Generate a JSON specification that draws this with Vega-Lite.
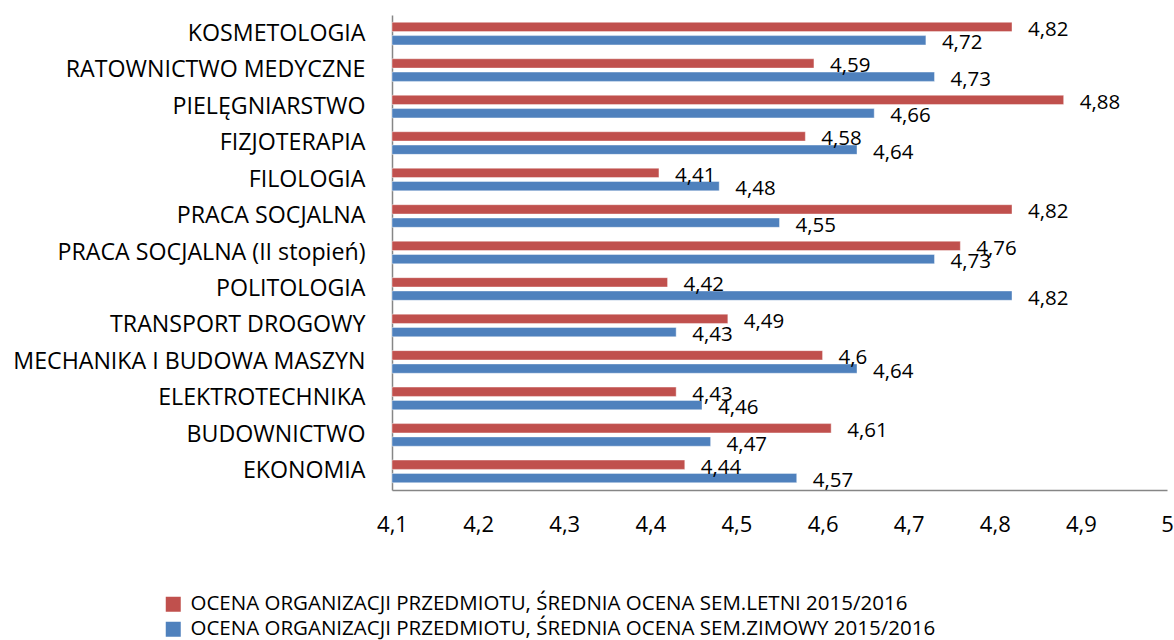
{
  "$schema": "https://vega.github.io/schema/vega-lite/v6.json",
  "autosize": "none",
  "width": 775,
  "height": 475,
  "padding": {"left": 392, "top": 15, "right": 7, "bottom": 150},
  "background": "white",
  "config": {
    "font": "Open Sans",
    "view": {"stroke": null},
    "locale": {"number": {"decimal": ",", "thousands": " ", "grouping": [3], "currency": ["", " zł"]}}
  },
  "data": {
    "values": [
      {"kierunek": "KOSMETOLOGIA", "seria": "OCENA ORGANIZACJI PRZEDMIOTU, ŚREDNIA OCENA SEM.LETNI 2015/2016", "ocena": 4.82},
      {"kierunek": "KOSMETOLOGIA", "seria": "OCENA ORGANIZACJI PRZEDMIOTU, ŚREDNIA OCENA SEM.ZIMOWY 2015/2016", "ocena": 4.72},
      {"kierunek": "RATOWNICTWO MEDYCZNE", "seria": "OCENA ORGANIZACJI PRZEDMIOTU, ŚREDNIA OCENA SEM.LETNI 2015/2016", "ocena": 4.59},
      {"kierunek": "RATOWNICTWO MEDYCZNE", "seria": "OCENA ORGANIZACJI PRZEDMIOTU, ŚREDNIA OCENA SEM.ZIMOWY 2015/2016", "ocena": 4.73},
      {"kierunek": "PIELĘGNIARSTWO", "seria": "OCENA ORGANIZACJI PRZEDMIOTU, ŚREDNIA OCENA SEM.LETNI 2015/2016", "ocena": 4.88},
      {"kierunek": "PIELĘGNIARSTWO", "seria": "OCENA ORGANIZACJI PRZEDMIOTU, ŚREDNIA OCENA SEM.ZIMOWY 2015/2016", "ocena": 4.66},
      {"kierunek": "FIZJOTERAPIA", "seria": "OCENA ORGANIZACJI PRZEDMIOTU, ŚREDNIA OCENA SEM.LETNI 2015/2016", "ocena": 4.58},
      {"kierunek": "FIZJOTERAPIA", "seria": "OCENA ORGANIZACJI PRZEDMIOTU, ŚREDNIA OCENA SEM.ZIMOWY 2015/2016", "ocena": 4.64},
      {"kierunek": "FILOLOGIA", "seria": "OCENA ORGANIZACJI PRZEDMIOTU, ŚREDNIA OCENA SEM.LETNI 2015/2016", "ocena": 4.41},
      {"kierunek": "FILOLOGIA", "seria": "OCENA ORGANIZACJI PRZEDMIOTU, ŚREDNIA OCENA SEM.ZIMOWY 2015/2016", "ocena": 4.48},
      {"kierunek": "PRACA SOCJALNA", "seria": "OCENA ORGANIZACJI PRZEDMIOTU, ŚREDNIA OCENA SEM.LETNI 2015/2016", "ocena": 4.82},
      {"kierunek": "PRACA SOCJALNA", "seria": "OCENA ORGANIZACJI PRZEDMIOTU, ŚREDNIA OCENA SEM.ZIMOWY 2015/2016", "ocena": 4.55},
      {"kierunek": "PRACA SOCJALNA (II stopień)", "seria": "OCENA ORGANIZACJI PRZEDMIOTU, ŚREDNIA OCENA SEM.LETNI 2015/2016", "ocena": 4.76},
      {"kierunek": "PRACA SOCJALNA (II stopień)", "seria": "OCENA ORGANIZACJI PRZEDMIOTU, ŚREDNIA OCENA SEM.ZIMOWY 2015/2016", "ocena": 4.73},
      {"kierunek": "POLITOLOGIA", "seria": "OCENA ORGANIZACJI PRZEDMIOTU, ŚREDNIA OCENA SEM.LETNI 2015/2016", "ocena": 4.42},
      {"kierunek": "POLITOLOGIA", "seria": "OCENA ORGANIZACJI PRZEDMIOTU, ŚREDNIA OCENA SEM.ZIMOWY 2015/2016", "ocena": 4.82},
      {"kierunek": "TRANSPORT DROGOWY", "seria": "OCENA ORGANIZACJI PRZEDMIOTU, ŚREDNIA OCENA SEM.LETNI 2015/2016", "ocena": 4.49},
      {"kierunek": "TRANSPORT DROGOWY", "seria": "OCENA ORGANIZACJI PRZEDMIOTU, ŚREDNIA OCENA SEM.ZIMOWY 2015/2016", "ocena": 4.43},
      {"kierunek": "MECHANIKA I BUDOWA MASZYN", "seria": "OCENA ORGANIZACJI PRZEDMIOTU, ŚREDNIA OCENA SEM.LETNI 2015/2016", "ocena": 4.6},
      {"kierunek": "MECHANIKA I BUDOWA MASZYN", "seria": "OCENA ORGANIZACJI PRZEDMIOTU, ŚREDNIA OCENA SEM.ZIMOWY 2015/2016", "ocena": 4.64},
      {"kierunek": "ELEKTROTECHNIKA", "seria": "OCENA ORGANIZACJI PRZEDMIOTU, ŚREDNIA OCENA SEM.LETNI 2015/2016", "ocena": 4.43},
      {"kierunek": "ELEKTROTECHNIKA", "seria": "OCENA ORGANIZACJI PRZEDMIOTU, ŚREDNIA OCENA SEM.ZIMOWY 2015/2016", "ocena": 4.46},
      {"kierunek": "BUDOWNICTWO", "seria": "OCENA ORGANIZACJI PRZEDMIOTU, ŚREDNIA OCENA SEM.LETNI 2015/2016", "ocena": 4.61},
      {"kierunek": "BUDOWNICTWO", "seria": "OCENA ORGANIZACJI PRZEDMIOTU, ŚREDNIA OCENA SEM.ZIMOWY 2015/2016", "ocena": 4.47},
      {"kierunek": "EKONOMIA", "seria": "OCENA ORGANIZACJI PRZEDMIOTU, ŚREDNIA OCENA SEM.LETNI 2015/2016", "ocena": 4.44},
      {"kierunek": "EKONOMIA", "seria": "OCENA ORGANIZACJI PRZEDMIOTU, ŚREDNIA OCENA SEM.ZIMOWY 2015/2016", "ocena": 4.57}
    ]
  },
  "encoding": {
    "y": {
      "field": "kierunek",
      "type": "nominal",
      "sort": null,
      "scale": {"paddingInner": 0.38, "paddingOuter": 0.2},
      "axis": {
        "title": null,
        "ticks": false,
        "labelFontSize": 23.2,
        "labelColor": "black",
        "labelPadding": 27,
        "labelLimit": 500,
        "domainColor": "#868686",
        "domainWidth": 1.5
      }
    },
    "yOffset": {
      "field": "seria",
      "type": "nominal",
      "scale": {"paddingInner": 0.3}
    },
    "x": {
      "field": "ocena",
      "type": "quantitative",
      "scale": {"domain": [4.1, 5], "nice": false, "zero": false},
      "axis": {
        "title": null,
        "values": [4.1, 4.2, 4.3, 4.4, 4.5, 4.6, 4.7, 4.8, 4.9, 5],
        "format": ".1~f",
        "grid": false,
        "ticks": false,
        "labelFontSize": 22,
        "labelColor": "black",
        "labelPadding": 24,
        "labelFlush": false,
        "domainColor": "#868686",
        "domainWidth": 1.5
      }
    }
  },
  "layer": [
    {
      "mark": {"type": "bar", "stroke": "white", "strokeOpacity": 0.4, "strokeWidth": 1},
      "encoding": {
        "x2": {"datum": 4.1},
        "color": {
          "field": "seria",
          "type": "nominal",
          "scale": {"range": ["#C0504D", "#4F81BD"]},
          "legend": {
            "title": null,
            "orient": "none",
            "direction": "vertical",
            "legendX": -229,
            "legendY": 579,
            "symbolType": "square",
            "symbolSize": 225,
            "symbolStrokeWidth": 0,
            "labelFontSize": 20.5,
            "labelColor": "black",
            "labelOffset": 7,
            "labelLimit": 1000,
            "rowPadding": 4
          }
        }
      }
    },
    {
      "mark": {"type": "text", "align": "left", "baseline": "middle", "dx": 16, "dy": 3, "fontSize": 20.5, "color": "black"},
      "encoding": {
        "text": {"field": "ocena", "type": "quantitative", "format": ".2~f"}
      }
    }
  ]
}
